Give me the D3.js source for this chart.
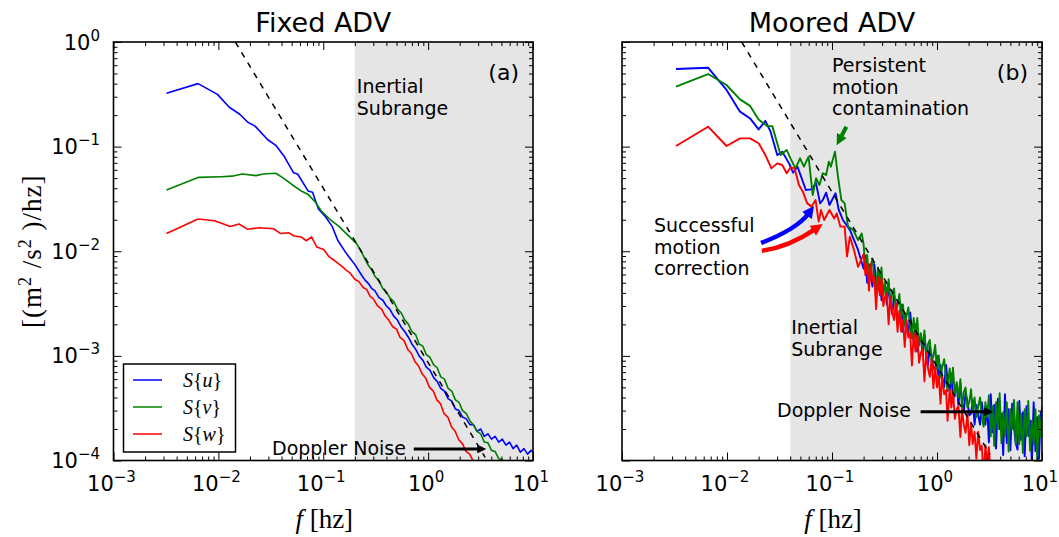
<!DOCTYPE html>
<html>
<head>
<meta charset="utf-8">
<script src="https://cdn.jsdelivr.net/npm/d3@7"></script>
<style>
  body { margin: 0; background: #fff; }
  svg { display: block; font-family: "DejaVu Sans", sans-serif; }
</style>
</head>
<body>
<svg id="chart" width="1059" height="537"></svg>
<script>
// spectra: [frequency (hz), S (m^2/s^2/hz)]
var fixedU = [[0.0032,0.323],[0.0064,0.40],[0.0098,0.316],[0.0127,0.238],[0.016,0.204],[0.0191,0.171],
  [0.0224,0.157],[0.0294,0.117],[0.0353,0.103],[0.042,0.0819],[0.052,0.0563],[0.057,0.0547],[0.0716,0.0377],
  [0.079,0.0366],[0.090,0.0253],[0.105,0.0214],[0.122,0.0172],[0.137,0.0128],[0.165,0.0096],[0.19,0.0080],
  [0.207,0.0071],[0.23,0.0060],[0.25,0.0053],[0.27,0.0049],[0.29,0.0044],[0.31,0.0042],[0.34,0.0036],
  [0.37,0.0034],[0.40,0.0030],[0.43,0.0028],[0.47,0.0024],[0.51,0.0022],[0.55,0.0019],[0.60,0.0017],
  [0.65,0.0015],[0.70,0.0013],[0.76,0.00116],[0.82,0.00100],[0.89,0.00091],[0.96,0.00078],[1.04,0.00073],
  [1.13,0.00062],[1.22,0.00057],[1.32,0.00049],[1.43,0.00046],[1.55,0.00039],[1.68,0.00037],[1.82,0.00031],
  [1.97,0.00030],[2.13,0.00026],[2.31,0.00025],[2.5,0.00022],[2.7,0.00022],[2.93,0.00019],[3.17,0.00020],
  [3.43,0.00017],[3.71,0.00018],[4.02,0.00016],[4.35,0.00017],[4.71,0.00015],[5.1,0.00016],[5.52,0.00014],
  [5.97,0.00015],[6.46,0.00013],[7.0,0.00014],[7.57,0.00012],[8.2,0.00013],[8.87,0.000115],[9.6,0.000125],
  [10,0.00012]];
var fixedV = [[0.0032,0.0385],[0.0064,0.0508],[0.0107,0.0516],[0.01345,0.0522],[0.0169,0.0547],[0.0229,0.0528],
  [0.0267,0.0547],[0.0353,0.0556],[0.042,0.0498],[0.0509,0.043],[0.0615,0.0377],[0.0716,0.035],[0.0834,0.0298],
  [0.097,0.0239],[0.1175,0.0199],[0.142,0.0172],[0.165,0.0148],[0.207,0.0119],[0.23,0.0100],[0.25,0.0084],
  [0.27,0.0073],[0.29,0.0066],[0.31,0.0058],[0.34,0.0052],[0.37,0.0044],[0.40,0.0041],[0.43,0.0036],
  [0.47,0.0033],[0.51,0.0028],[0.55,0.0026],[0.60,0.0022],[0.65,0.0020],[0.70,0.0017],[0.76,0.0016],
  [0.82,0.0013],[0.89,0.00124],[0.96,0.00103],[1.04,0.00097],[1.13,0.00082],[1.22,0.00077],[1.32,0.00063],
  [1.43,0.00060],[1.55,0.00049],[1.68,0.00046],[1.82,0.00038],[1.97,0.00036],[2.13,0.00030],[2.31,0.00028],
  [2.5,0.00024],[2.7,0.00022],[2.93,0.00019],[3.17,0.00018],[3.43,0.00015],[3.71,0.000148],[4.02,0.000125],
  [4.35,0.000122],[4.71,0.000104],[5.1,0.000102],[5.52,0.000088]];
var fixedW = [[0.0032,0.0148],[0.0064,0.0203],[0.0092,0.0196],[0.013,0.0172],[0.0157,0.0182],[0.0191,0.0162],
  [0.0247,0.0168],[0.0335,0.0164],[0.039,0.0148],[0.0471,0.015],[0.0528,0.014],[0.0615,0.0137],[0.069,0.0126],
  [0.0773,0.0137],[0.0867,0.011],[0.101,0.0104],[0.113,0.0089],[0.127,0.0082],[0.153,0.0071],[0.165,0.0066],
  [0.18,0.0062],[0.20,0.0054],[0.22,0.0051],[0.24,0.0045],[0.26,0.0043],[0.28,0.0037],[0.30,0.0035],
  [0.33,0.0030],[0.36,0.0028],[0.39,0.0024],[0.42,0.0022],[0.46,0.0019],[0.50,0.0018],[0.54,0.0015],
  [0.59,0.0014],[0.64,0.00115],[0.69,0.00106],[0.75,0.00088],[0.81,0.00080],[0.88,0.00067],[0.95,0.00061],
  [1.03,0.00050],[1.12,0.00046],[1.21,0.00038],[1.31,0.00035],[1.42,0.00028],[1.54,0.00026],[1.67,0.00021],
  [1.81,0.00019],[1.96,0.000158],[2.12,0.000145],[2.3,0.000122],[2.49,0.000115],[2.7,0.000098],[2.92,0.000090]];

// moored ADV, below 0.2 hz
var mooredULow = [[0.00327,0.552],[0.0066,0.568],[0.0099,0.348],[0.0133,0.216],[0.0166,0.186],[0.02,0.146],
  [0.0232,0.176],[0.026,0.139],[0.0301,0.083],[0.0336,0.0895],[0.039,0.0692],[0.0426,0.0563],[0.0469,0.0643],
  [0.0564,0.0385],[0.063,0.039],[0.0705,0.0446],[0.077,0.0287],[0.0817,0.0309],[0.0879,0.0363],[0.0946,0.0277],
  [0.108,0.0358],[0.116,0.0248],[0.127,0.0199],[0.148,0.016],[0.177,0.0103]];
var mooredVLow = [[0.00327,0.374],[0.0066,0.494],[0.0099,0.388],[0.0133,0.283],[0.0166,0.245],[0.02,0.182],
  [0.0241,0.157],[0.027,0.157],[0.0324,0.083],[0.037,0.0929],[0.0402,0.0773],[0.0449,0.062],[0.0496,0.0773],
  [0.054,0.0643],[0.0598,0.0802],[0.0655,0.0345],[0.0705,0.0498],[0.076,0.043],[0.0817,0.0556],[0.0879,0.0536],
  [0.0933,0.0718],[0.0975,0.0643],[0.1067,0.0895],[0.114,0.0516],[0.1227,0.0309],[0.132,0.0287],[0.142,0.0172],
  [0.159,0.016],[0.177,0.0128],[0.192,0.0148]];
var mooredWLow = [[0.00327,0.1014],[0.0066,0.155],[0.0099,0.1014],[0.0133,0.12],[0.0166,0.12],[0.02,0.1076],
  [0.0232,0.083],[0.0265,0.062],[0.0301,0.0692],[0.0336,0.0667],[0.037,0.0556],[0.0402,0.0633],[0.044,0.062],
  [0.0484,0.043],[0.0528,0.0371],[0.058,0.0287],[0.0637,0.0267],[0.0697,0.0309],[0.0747,0.0192],[0.0785,0.0248],
  [0.0842,0.0199],[0.0946,0.0248],[0.105,0.0206],[0.111,0.023],[0.12,0.0172],[0.132,0.0172],[0.139,0.0089],
  [0.148,0.0138],[0.162,0.0103],[0.177,0.0071]];

// moored ADV, 0.2 - 10 hz (noisy part), shared frequencies
var mooredHiFreq = [0.200,0.208,0.216,0.225,0.234,0.243,0.253,0.263,0.274,0.285,0.296,0.308,0.320,0.333,
  0.346,0.360,0.375,0.390,0.405,0.421,0.438,0.456,0.474,0.493,0.513,0.533,0.555,0.577,0.600,0.624,0.649,
  0.675,0.702,0.730,0.759,0.790,0.821,0.854,0.888,0.924,0.961,0.999,1.04,1.08,1.12,1.17,1.22,1.26,1.32,
  1.37,1.42,1.48,1.54,1.60,1.67,1.73,1.80,1.87,1.95,2.03,2.11,2.19,2.28,2.37,2.47,2.57,2.67,2.78,2.89,
  3.00,3.12,3.25,3.38,3.51,3.65,3.80,3.95,4.11,4.27,4.44,4.62,4.81,5.00,5.20,5.41,5.62,5.85,6.08,6.33,
  6.58,6.84,7.12,7.40,7.70,8.01,8.33,8.66,9.00,9.36,9.74,10.0];
var mooredUHi = [0.0068,0.0091,0.0050,0.0075,0.0058,0.0046,0.0075,0.0052,0.0042,0.0062,0.0034,0.0044,0.0047,
  0.0031,0.0049,0.0032,0.0025,0.0038,0.0032,0.0023,0.0023,0.0031,0.0017,0.0025,0.0020,0.00158,0.0026,0.0018,
  0.00137,0.0020,0.0011,0.00144,0.00155,0.00101,0.0016,0.00103,0.00082,0.00123,0.00102,0.00075,0.00075,0.0010,
  0.00055,0.00082,0.00063,0.00050,0.00082,0.00057,0.00046,0.00068,0.00037,0.00049,0.00053,0.00034,0.00055,
  0.00036,0.00029,0.00044,0.00037,0.00027,0.00028,0.00038,0.00022,0.00034,0.00027,0.00022,0.00036,0.00026,
  0.00022,0.00033,0.000149,0.00043,0.000186,0.00034,0.00013,0.00039,0.00020,0.00028,0.000113,0.00043,0.000147,
  0.00031,0.000125,0.00035,0.00021,0.000146,0.000127,0.00037,0.000158,0.00029,0.00011,0.00033,0.000172,0.00024,
  0.0000945,0.00036,0.000123,0.00026,0.000104,0.00029,0.00018];
var mooredVHi = [0.0116,0.0067,0.0092,0.0057,0.0072,0.0085,0.0054,0.0043,0.0070,0.0050,0.0070,0.0038,0.0051,
  0.0036,0.0054,0.0029,0.0040,0.0044,0.0027,0.0030,0.0039,0.0023,0.0031,0.00195,0.0024,0.0029,0.0019,0.00147,
  0.0023,0.0016,0.0023,0.00125,0.00165,0.00119,0.00175,0.00094,0.00129,0.00142,0.00088,0.00099,0.00127,0.00074,
  0.00101,0.00062,0.00078,0.00093,0.00060,0.00046,0.00076,0.00054,0.00077,0.00042,0.00056,0.00040,0.00060,
  0.00032,0.00045,0.00050,0.00032,0.00036,0.00048,0.00029,0.00040,0.00026,0.00033,0.00040,0.00026,0.00021,
  0.00036,0.00026,0.00042,0.00017,0.00033,0.000138,0.00036,0.00020,0.00044,0.000146,0.00029,0.00017,0.00036,
  0.000122,0.00031,0.00020,0.00038,0.000142,0.00036,0.000144,0.00028,0.000118,0.00031,0.00017,0.00037,0.000124,
  0.00024,0.000143,0.00031,0.000103,0.00027,0.000168,0.00033];
var mooredWHi = [0.0094,0.0059,0.0076,0.0042,0.0076,0.0051,0.0056,0.0028,0.0057,0.0038,0.0055,0.0030,0.0037,
  0.0040,0.0020,0.0037,0.0026,0.0022,0.0032,0.0017,0.0027,0.0017,0.0022,0.00122,0.0022,0.0015,0.00164,0.00081,
  0.00166,0.0011,0.00159,0.00086,0.00108,0.00116,0.00057,0.00107,0.00076,0.00063,0.00093,0.00049,0.00079,0.0005,
  0.00064,0.00035,0.00064,0.00043,0.00047,0.00024,0.00048,0.00032,0.00046,0.00025,0.00031,0.00033,0.000168,
  0.00031,0.00022,0.000184,0.00028,0.00014,0.00023,0.000144,0.000187,0.000104,0.000188,0.000126,0.000139,
  0.000068,0.00014,0.000094,0.000134,0.000073,0.000091,0.000099,0.000049];

var mooredU = mooredULow.concat(d3.zip(mooredHiFreq, mooredUHi));
var mooredV = mooredVLow.concat(d3.zip(mooredHiFreq, mooredVHi));
var mooredW = mooredWLow.concat(d3.zip(mooredHiFreq, mooredWHi));

var seriesLabels = ["u", "v", "w"];
var seriesColors = ["#0000ff", "#008000", "#ff0000"];
var panelTitles = ["Fixed ADV", "Moored ADV"];
var panelTags = ["(a)", "(b)"];
var inertialStart = [0.2, 0.04];          // start of shaded inertial subrange (hz)
var slopeLines = [[[0.0145, 1], [3.5, 1.07e-4]], [[0.0138, 1], [3.2, 1.14e-4]]];   // -5/3 reference
var xDecades = [-3, -2, -1, 0, 1];
var yDecades = [0, -1, -2, -3, -4];

// annotation arrows, in data coordinates
var arrows = [
  {panel: 0, color: "#000", from: [0.73, 1.29e-4], to: [3.7, 1.29e-4], w: 3, head: [11, 9]},
  {panel: 1, color: "#000", from: [0.698, 2.93e-4], to: [3.55, 2.93e-4], w: 3, head: [11, 9]},
  {panel: 1, color: "#008000", from: [0.137, 0.155], to: [0.110, 0.1014], w: 4, head: [12, 11]},
  {panel: 1, color: "#0000ff", from: [0.0211, 0.0120], ctrl: [0.0465, 0.0163], to: [0.0674, 0.0271], w: 4.5, head: [12, 12]},
  {panel: 1, color: "#ff0000", from: [0.0215, 0.0101], ctrl: [0.0389, 0.011], to: [0.0815, 0.0182], w: 4.5, head: [12, 12]}
];

var svg = d3.select("#chart");
var plotTop = 42, plotBottom = 460.5;
var panels = [
  {x0: 113.5, x1: 533, lw: 1.6, data: [fixedU, fixedV, fixedW]},
  {x0: 622, x1: 1042, lw: 1.9, data: [mooredU, mooredV, mooredW]}
];
var defs = svg.append("defs");

var ys = d3.scaleLog().domain([1e-4, 1]).range([plotBottom, plotTop]);

function decadeTicks(decs){
  var maj = decs.map(function(d){ return Math.pow(10, d); }), mnr = [];
  var lo = d3.min(decs), hi = d3.max(decs);
  for (var d = lo; d < hi; d++) for (var m = 2; m < 10; m++) mnr.push(m * Math.pow(10, d));
  return [maj, mnr];
}
var xt = decadeTicks(xDecades), yt = decadeTicks(yDecades);

panels.forEach(function(p, pi){
  var xs = d3.scaleLog().domain([1e-3, 10]).range([p.x0, p.x1]);
  p.xs = xs;
  var g = svg.append("g");

  defs.append("clipPath").attr("id", "clip" + pi)
    .append("rect").attr("x", p.x0).attr("y", plotTop)
    .attr("width", p.x1 - p.x0).attr("height", plotBottom - plotTop);

  // inertial subrange shading
  g.append("rect")
    .attr("x", xs(inertialStart[pi])).attr("y", plotTop)
    .attr("width", xs(10) - xs(inertialStart[pi]))
    .attr("height", plotBottom - plotTop)
    .attr("fill", "#e5e5e5");

  var line = d3.line().x(function(d){ return xs(d[0]); }).y(function(d){ return ys(d[1]); });
  var cg = g.append("g").attr("clip-path", "url(#clip" + pi + ")");
  p.data.forEach(function(s, i){
    cg.append("path").datum(s)
      .attr("d", line)
      .attr("fill", "none")
      .attr("stroke", seriesColors[i])
      .attr("stroke-width", p.lw)
      .attr("stroke-linejoin", "round");
  });
  cg.append("path").datum(slopeLines[pi])
    .attr("d", line)
    .attr("fill", "none")
    .attr("stroke", "#000")
    .attr("stroke-width", 1.5)
    .attr("stroke-dasharray", "6,6");

  // ticks on all four sides, pointing in
  function ticks(axisFn, scale, vals, size, tr){
    g.append("g").attr("transform", tr)
      .call(axisFn(scale).tickValues(vals).tickSizeInner(-size).tickSizeOuter(0).tickFormat(""))
      .call(function(a){ a.select(".domain").remove(); a.selectAll(".tick line").attr("stroke-width", 1); });
  }
  [[xt[0], 8], [xt[1], 4]].forEach(function(t){
    ticks(d3.axisBottom, xs, t[0], t[1], "translate(0," + plotBottom + ")");
    ticks(d3.axisTop, xs, t[0], t[1], "translate(0," + plotTop + ")");
  });
  [[yt[0], 8], [yt[1], 4]].forEach(function(t){
    ticks(d3.axisLeft, ys, t[0], t[1], "translate(" + p.x0 + ",0)");
    ticks(d3.axisRight, ys, t[0], t[1], "translate(" + p.x1 + ",0)");
  });
  g.append("rect")
    .attr("x", p.x0).attr("y", plotTop)
    .attr("width", p.x1 - p.x0).attr("height", plotBottom - plotTop)
    .attr("fill", "none").attr("stroke", "#000").attr("stroke-width", 1.6);

  // x tick labels
  xDecades.forEach(function(d){
    var t = g.append("text")
      .attr("x", xs(Math.pow(10, d)) - 2).attr("y", 490.5)
      .attr("text-anchor", "middle").attr("font-size", 21);
    t.append("tspan").text("10");
    t.append("tspan").attr("dy", -9).attr("font-size", 15).text(d < 0 ? "\u2212" + (-d) : String(d));
  });
  if (pi === 0) {
    yDecades.forEach(function(d){
      var t = g.append("text")
        .attr("x", 100).attr("y", ys(Math.pow(10, d)) + 7.5)
        .attr("text-anchor", "end").attr("font-size", 21);
      t.append("tspan").text("10");
      t.append("tspan").attr("dy", -9).attr("font-size", 15).text(d < 0 ? "\u2212" + (-d) : String(d));
    });
  }

  // title, panel tag, x label
  g.append("text")
    .attr("x", (p.x0 + p.x1) / 2).attr("y", 32)
    .attr("text-anchor", "middle").attr("font-size", 27)
    .text(panelTitles[pi]);
  g.append("text")
    .attr("x", p.x1 - 14).attr("y", 80)
    .attr("text-anchor", "end").attr("font-size", 22)
    .text(panelTags[pi]);
  var xl = g.append("text")
    .attr("x", (p.x0 + p.x1) / 2 + 1).attr("y", 528)
    .attr("text-anchor", "middle").attr("font-size", 27)
    .attr("font-family", "'Liberation Serif', serif");
  xl.append("tspan").attr("font-style", "italic").text("f");
  xl.append("tspan").text(" [hz]");
});

// y axis label (left panel only)
var yl = svg.append("text")
  .attr("transform", "translate(41," + ((plotTop + plotBottom) / 2) + ") rotate(-90)")
  .attr("text-anchor", "middle").attr("font-size", 27)
  .attr("font-family", "'Liberation Serif', serif")
  .attr("letter-spacing", 1);
yl.append("tspan").text("[(m");
yl.append("tspan").attr("dy", -10).attr("font-size", 18).text("2");
yl.append("tspan").attr("dy", 10).text(" /s");
yl.append("tspan").attr("dy", -10).attr("font-size", 18).text("2");
yl.append("tspan").attr("dy", 10).text(" )/hz]");

// text annotations
function multiline(x, y, lines, lh){
  var t = svg.append("text").attr("font-size", 19);
  lines.forEach(function(s, i){
    t.append("tspan").attr("x", x).attr("y", y + i * lh).text(s);
  });
}
multiline(panels[0].xs(inertialStart[0]) + 2, 93, ["Inertial", "Subrange"], 22);
multiline(panels[1].xs(inertialStart[1]) + 1, 334, ["Inertial", "Subrange"], 22);
multiline(832, 72, ["Persistent", "motion", "contamination"], 21.5);
multiline(654, 232, ["Successful", "motion", "correction"], 21.5);
multiline(272, 455, ["Doppler Noise"], 0);
multiline(777, 417, ["Doppler Noise"], 0);

// legend
var lg = svg.append("g");
lg.append("rect")
  .attr("x", 123.5).attr("y", 364).attr("width", 112).attr("height", 88)
  .attr("fill", "#fff").attr("stroke", "#000").attr("stroke-width", 1.5);
seriesLabels.forEach(function(s, i){
  var yy = 380 + i * 27;
  lg.append("line").attr("x1", 133).attr("x2", 162).attr("y1", yy).attr("y2", yy)
    .attr("stroke", seriesColors[i]).attr("stroke-width", 1.5);
  var t = lg.append("text").attr("x", 183).attr("y", yy + 7)
    .attr("font-size", 20).attr("font-family", "'Liberation Serif', serif");
  t.append("tspan").attr("font-style", "italic").text("S");
  t.append("tspan").text("{");
  t.append("tspan").attr("font-style", "italic").text(s);
  t.append("tspan").text("}");
});

// arrows
arrows.forEach(function(a, i){
  var xs = panels[a.panel].xs;
  var s = [xs(a.from[0]), ys(a.from[1])], e = [xs(a.to[0]), ys(a.to[1])];
  var c = a.ctrl ? [xs(a.ctrl[0]), ys(a.ctrl[1])] : s;
  var dx = e[0] - c[0], dy = e[1] - c[1], len = Math.sqrt(dx * dx + dy * dy);
  var back = a.head[0] * 0.75;
  var ee = [e[0] - dx / len * back, e[1] - dy / len * back];
  defs.append("marker").attr("id", "head" + i)
    .attr("viewBox", "0 0 10 10").attr("refX", 2.5).attr("refY", 5)
    .attr("markerUnits", "userSpaceOnUse")
    .attr("markerWidth", a.head[0]).attr("markerHeight", a.head[1])
    .attr("orient", "auto")
    .append("path").attr("d", "M0,0L10,5L0,10Z").attr("fill", a.color);
  var d = a.ctrl
    ? "M" + s[0] + "," + s[1] + "Q" + c[0] + "," + c[1] + " " + ee[0] + "," + ee[1]
    : "M" + s[0] + "," + s[1] + "L" + ee[0] + "," + ee[1];
  svg.append("path").attr("d", d)
    .attr("fill", "none").attr("stroke", a.color).attr("stroke-width", a.w)
    .attr("marker-end", "url(#head" + i + ")");
});
</script>
</body>
</html>
